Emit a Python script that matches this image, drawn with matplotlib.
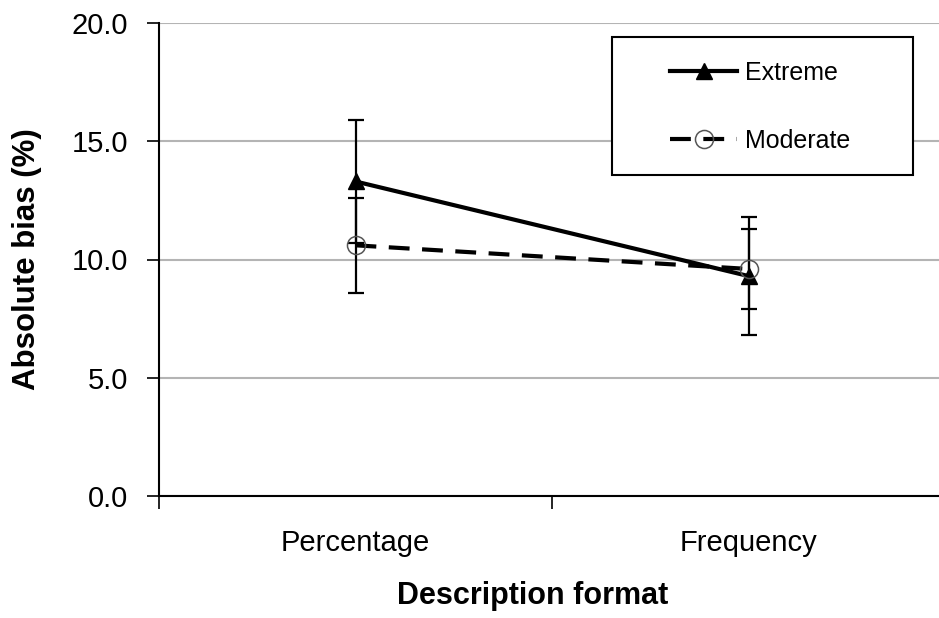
import matplotlib
matplotlib.use("Agg")
import matplotlib.pyplot as plt
from matplotlib.ticker import FixedLocator
from matplotlib.patches import Rectangle

plt.rcParams['font.family'] = ['Liberation Sans', 'DejaVu Sans']

categories = ["Percentage", "Frequency"]
extreme = [13.3, 9.3]
extreme_err = [2.6, 2.5]
moderate = [10.6, 9.6]
moderate_err = [2.0, 1.7]
yticks = [0.0, 5.0, 10.0, 15.0, 20.0]

W, H = 939, 618
fig = plt.figure(figsize=(W / 100, H / 100), dpi=100)
ax = fig.add_axes([159 / W, 1 - 496 / H, (939 - 159) / W, (496 - 23) / H])

x = list(range(len(categories)))

ax.errorbar(x, moderate, yerr=moderate_err, fmt='none', ecolor='black',
            elinewidth=1.6, capsize=5.5, capthick=1.6, zorder=3)
ax.errorbar(x, extreme, yerr=extreme_err, fmt='none', ecolor='black',
            elinewidth=1.6, capsize=5.5, capthick=1.6, zorder=3)

ax.plot(x, extreme, color='black', lw=3, marker='^', markersize=12,
        markerfacecolor='black', markeredgecolor='black', label='Extreme', zorder=4)
ax.plot(x, moderate, color='black', lw=3, linestyle=(0, (5, 3)), marker='o',
        markersize=13, markerfacecolor='none', markeredgecolor='#555555',
        markeredgewidth=1.1, label='Moderate', zorder=4)

ax.set_ylim(0, 20)
ax.set_xlim(-0.5, (939 - 159) / 393 - 0.5)
ax.set_yticks(yticks)
ax.set_yticklabels([f"{v:.1f}" for v in yticks])
ax.set_xticks(x)
ax.set_xticklabels(categories)
ax.xaxis.set_minor_locator(FixedLocator([-0.5, 0.5, 1.5]))
ax.tick_params(axis='x', which='major', length=0, pad=24, labelsize=21)
ax.tick_params(axis='x', which='minor', length=9, width=1.2, direction='out')
ax.tick_params(axis='y', length=9, width=1.2, pad=13, labelsize=21)

ax.yaxis.grid(True, color='#b4b4b4', lw=1.5)
ax.set_axisbelow(True)
for s in ['top', 'right']:
    ax.spines[s].set_visible(False)
for s in ['left', 'bottom']:
    ax.spines[s].set_linewidth(1.5)
    ax.spines[s].set_color('black')

fig.text(27 / W, 1 - 259 / H, "Absolute bias (%)", rotation=90, ha='center',
         va='center', fontsize=22.5, fontweight='bold')
fig.text(533 / W, 1 - 596 / H, "Description format", ha='center', va='center',
         fontsize=22, fontweight='bold')

# legend frame
ax.add_patch(Rectangle((612 / W, 1 - 175 / H), (913 - 612) / W, (175 - 37) / H,
                       transform=fig.transFigure, facecolor='white',
                       edgecolor='black', lw=1.5, zorder=5, clip_on=False))
leg = ax.legend(loc='center', bbox_to_anchor=(760 / W, 1 - 107 / H),
                bbox_transform=fig.transFigure, frameon=False,
                fontsize=18, handlelength=2.7, labelspacing=1.75,
                handletextpad=0.3, borderpad=0, borderaxespad=0)
leg.set_zorder(6)

fig.savefig("out.png", dpi=100)
